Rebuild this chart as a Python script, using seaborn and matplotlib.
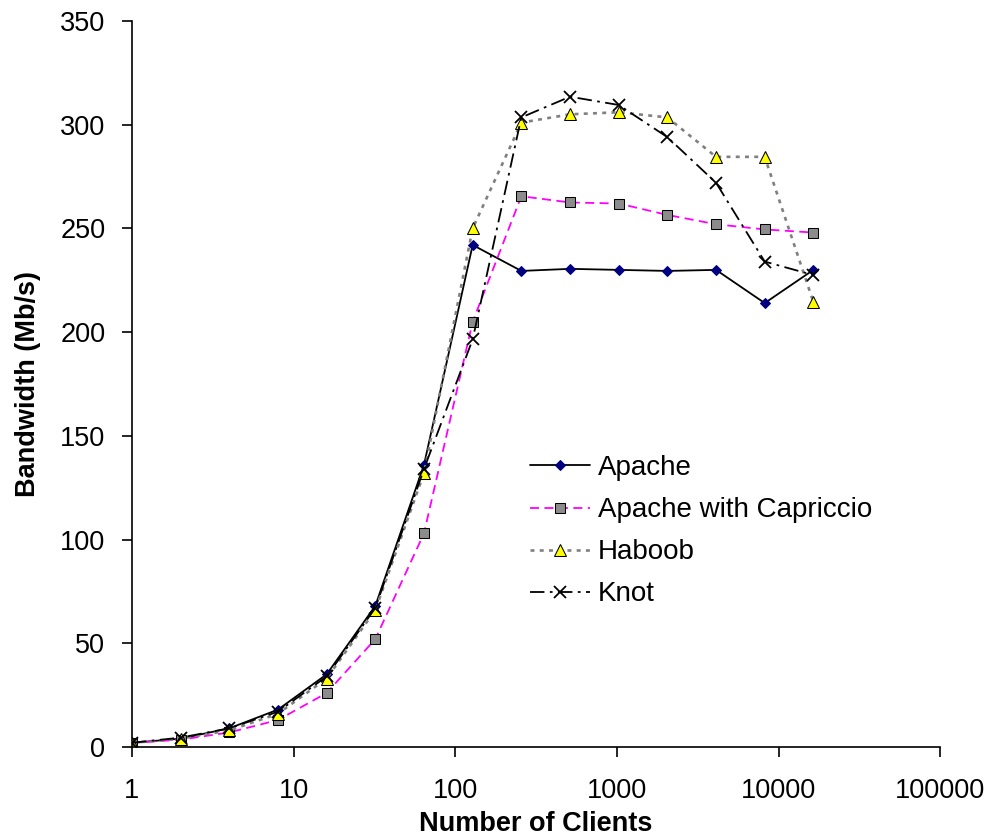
import matplotlib
matplotlib.use("Agg")
import matplotlib.pyplot as plt
import matplotlib.ticker as mticker
import pandas as pd
import seaborn as sns

clients = [1, 2, 4, 8, 16, 32, 64, 128, 256, 512, 1024, 2048, 4096, 8192, 16384]
apache = [2, 4, 9, 18, 35, 68, 136, 242, 229.5, 230.5, 230, 229.5, 230, 214, 230]
capriccio = [2, 3.5, 7, 13, 26, 52, 103, 205, 265.5, 262.5, 262, 256.5, 252, 249.5, 248]
haboob = [2, 4, 8, 16, 33, 66, 132, 250, 301, 305, 306, 303.5, 284.5, 284.5, 214.5]
knot = [2, 4.5, 9, 17, 34, 67, 134, 196.5, 303.5, 313.5, 309.5, 294, 272, 234, 227.5]

x_ticks = [1, 10, 100, 1000, 10000, 100000]
y_ticks = [0, 50, 100, 150, 200, 250, 300, 350]

sns.set_style("ticks")
plt.rcParams['font.family'] = ['Liberation Sans', 'DejaVu Sans']
plt.rcParams['text.color'] = 'black'
plt.rcParams['axes.labelcolor'] = 'black'

series = [
    ("Apache", apache, dict(color="black", linestyle="-", lw=1.3, marker="D",
                            ms=5.5, mfc="#000080", mec="#000080")),
    ("Apache with Capriccio", capriccio, dict(color="#ff00ff", linestyle=(0, (5, 3)), lw=1.3,
                                              marker="s", ms=7.5, mfc="#8c8c8c", mec="black")),
    ("Haboob", haboob, dict(color="#808080", linestyle=(0, (1.5, 2)), lw=1.9, marker="^",
                            ms=8, mfc="#ffff00", mec="black")),
    ("Knot", knot, dict(color="black", linestyle=(0, (8, 3, 1.5, 3)), lw=1.3, marker="x",
                        ms=8.5, mfc="black", mec="black", mew=1.3)),
]

fig = plt.figure(figsize=(9.92, 8.39), dpi=100)
ax = fig.add_axes([0.133, 0.1097, 0.815, 0.8653])

for name, vals, style in series:
    df = pd.DataFrame({"clients": clients, "bw": vals})
    sns.lineplot(data=df, x="clients", y="bw", ax=ax, label=name, **style)

ax.set_xscale("log")
ax.set_xlim(1, 100000)
ax.set_ylim(0, 350)
ax.xaxis.set_major_locator(mticker.FixedLocator(x_ticks))
ax.xaxis.set_minor_locator(mticker.NullLocator())
ax.xaxis.set_major_formatter(mticker.FuncFormatter(lambda v, p: f"{int(v)}"))
ax.set_yticks(y_ticks)
ax.tick_params(axis="both", direction="out", length=7.2, width=1.2, labelsize=19.5, colors="black")
ax.tick_params(axis="x", pad=15)
ax.tick_params(axis="y", pad=12)
sns.despine(ax=ax)
for sp in ("left", "bottom"):
    ax.spines[sp].set_linewidth(1.2)
    ax.spines[sp].set_color("black")

ax.set_xlabel("Number of Clients", fontsize=19.5, fontweight="bold", labelpad=5)
ax.set_ylabel("Bandwidth (Mb/s)", fontsize=19.5, fontweight="bold", labelpad=14)

ax.legend(loc="upper left", bbox_to_anchor=(0.478, 0.4173), borderaxespad=0, frameon=False,
          fontsize=20, handlelength=2.16, handletextpad=0.3, labelspacing=0.58,
          labelcolor="black")

fig.savefig("out.png", dpi=100)
